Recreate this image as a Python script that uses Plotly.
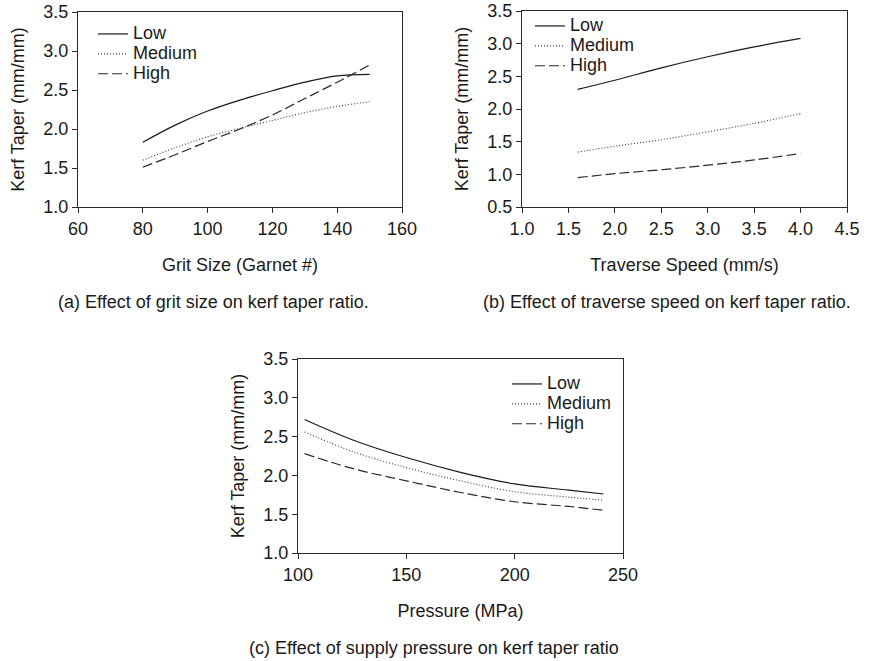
import plotly.graph_objects as go

# (a) grit size
grit_size = [80, 90, 100, 110, 120, 130, 140, 150]
grit_low = [1.83, 2.05, 2.23, 2.37, 2.49, 2.60, 2.68, 2.70]
grit_medium = [1.60, 1.76, 1.90, 2.01, 2.11, 2.21, 2.29, 2.35]
grit_high = [1.51, 1.67, 1.84, 2.00, 2.18, 2.39, 2.60, 2.82]

# (b) traverse speed
speed = [1.6, 2.0, 2.5, 3.0, 3.5, 4.0]
speed_low = [2.30, 2.44, 2.63, 2.80, 2.95, 3.08]
speed_medium = [1.34, 1.43, 1.53, 1.65, 1.78, 1.93]
speed_high = [0.95, 1.01, 1.07, 1.14, 1.22, 1.32]

# (c) supply pressure
pressure = [103, 125, 150, 175, 200, 225, 241]
pressure_low = [2.72, 2.46, 2.23, 2.04, 1.89, 1.81, 1.76]
pressure_medium = [2.56, 2.31, 2.10, 1.93, 1.79, 1.72, 1.68]
pressure_high = [2.28, 2.09, 1.93, 1.78, 1.66, 1.60, 1.55]

level_names = ["Low", "Medium", "High"]
captions = [
    "(a) Effect of grit size on kerf taper ratio.",
    "(b) Effect of traverse speed on kerf taper ratio.",
    "(c) Effect of supply pressure on kerf taper ratio",
]

W, H = 871, 661
FONT = "Liberation Sans, Arial, Helvetica, sans-serif"
TXT = "#1a1a1a"
FS = 18

line_styles = [
    dict(color="#1a1a1a", width=1.2, dash="solid"),
    dict(color="#3a3a3a", width=1.1, dash="1px,2px"),
    dict(color="#2a2a2a", width=1.2, dash="10px,4px"),
]

fig = go.Figure()

panels = [
    ("x", "y", "legend", grit_size, [grit_low, grit_medium, grit_high]),
    ("x2", "y2", "legend2", speed, [speed_low, speed_medium, speed_high]),
    ("x3", "y3", "legend3", pressure, [pressure_low, pressure_medium, pressure_high]),
]
for xa, ya, lg, xs, series in panels:
    for name, ys, st in zip(level_names, series, line_styles):
        fig.add_trace(go.Scatter(
            x=xs, y=ys, mode="lines", line=dict(shape="spline", smoothing=1.0, **st),
            name=f'<span style="font-size:{FS}px">{name}</span>',
            xaxis=xa, yaxis=ya, legend=lg, showlegend=True,
        ))


def px_dom(a, b, total):
    return [a / total, b / total]


def py_dom(top, bottom):
    return [1 - bottom / H, 1 - top / H]


def axis(**kw):
    base = dict(
        showline=True, linecolor="#2a2a2a", linewidth=1, mirror=True,
        ticks="outside", ticklen=5, tickcolor="#2a2a2a", tickwidth=1,
        showgrid=False, zeroline=False, automargin=False,
        tickfont=dict(family=FONT, size=FS, color=TXT),
    )
    base.update(kw)
    return base


ytitle = dict(text="Kerf Taper (mm/mm)", font=dict(family=FONT, size=FS, color=TXT), standoff=14)

fig.update_layout(
    width=W, height=H,
    margin=dict(l=0, r=0, t=0, b=0),
    paper_bgcolor="white", plot_bgcolor="white",
    font=dict(family=FONT, size=FS, color=TXT),
    xaxis=axis(domain=px_dom(78, 402, W), range=[60, 160], dtick=20, anchor="y",
               title=dict(text="Grit Size (Garnet #)", font=dict(family=FONT, size=FS, color=TXT), standoff=20)),
    yaxis=axis(domain=py_dom(12, 207), range=[1.0, 3.5], dtick=0.5, tickformat=".1f", anchor="x",
               title=ytitle),
    xaxis2=axis(domain=px_dom(522, 847, W), range=[1.0, 4.5], dtick=0.5, tickformat=".1f", anchor="y2",
                title=dict(text="Traverse Speed (mm/s)", font=dict(family=FONT, size=FS, color=TXT), standoff=20)),
    yaxis2=axis(domain=py_dom(11, 207), range=[0.5, 3.5], dtick=0.5, tickformat=".1f", anchor="x2",
                title=ytitle),
    xaxis3=axis(domain=px_dom(298, 623, W), range=[100, 250], dtick=50, anchor="y3",
                title=dict(text="Pressure (MPa)", font=dict(family=FONT, size=FS, color=TXT), standoff=20)),
    yaxis3=axis(domain=py_dom(359, 553), range=[1.0, 3.5], dtick=0.5, tickformat=".1f", anchor="x3",
                title=ytitle),
)

legend_common = dict(
    bgcolor="rgba(0,0,0,0)", borderwidth=0, font=dict(family=FONT, size=13, color=TXT),
    xanchor="left", yanchor="middle", tracegroupgap=0, itemwidth=30,
)
fig.update_layout(
    legend=dict(x=(94 - 1) / W, y=1 - 54 / H, **legend_common),
    legend2=dict(x=(531 - 1) / W, y=1 - 46 / H, **legend_common),
    legend3=dict(x=(508 - 1) / W, y=1 - 404 / H, **legend_common),
)

for text, cx, cy in zip(captions, [213, 667, 434], [302, 302, 648]):
    fig.add_annotation(
        text=text, xref="paper", yref="paper", x=cx / W, y=1 - cy / H,
        xanchor="center", yanchor="middle", showarrow=False,
        font=dict(family=FONT, size=FS, color=TXT),
    )

fig.write_html("out.html")
